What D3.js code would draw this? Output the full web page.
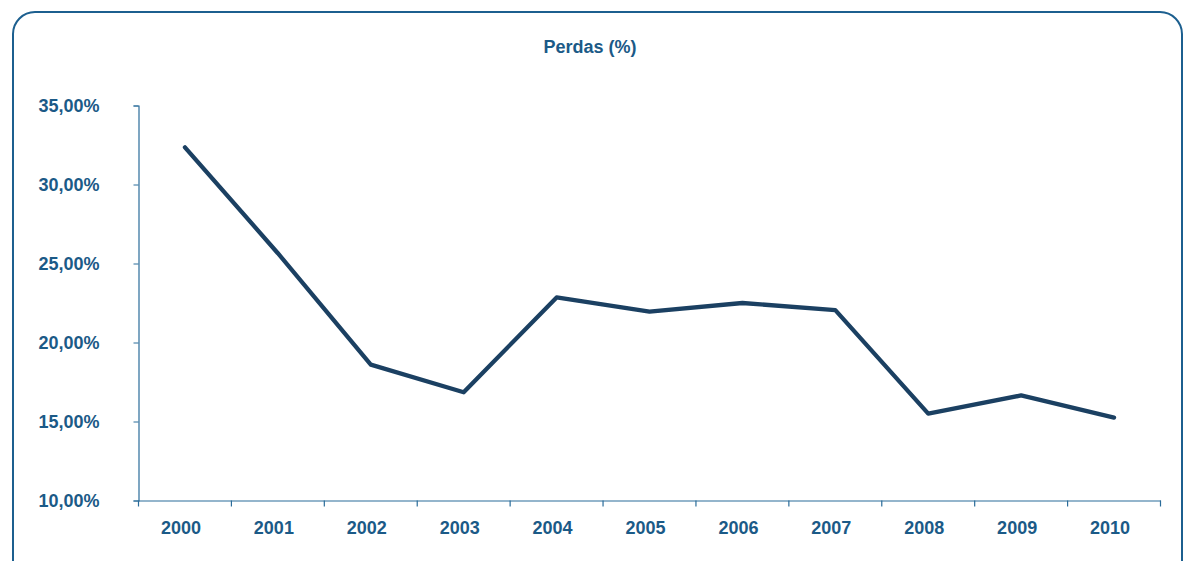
<!DOCTYPE html>
<html>
<head>
<meta charset="utf-8">
<script src="https://cdn.jsdelivr.net/npm/d3@7"></script>
<style>
  body { margin: 0; background: #fff; }
  svg { display: block; font-family: "Liberation Sans", Arial, sans-serif; }
</style>
</head>
<body>
<div id="chart"></div>
<script>
// data
var years = ["2000","2001","2002","2003","2004","2005","2006","2007","2008","2009","2010"];
var perdas = [32.35, 25.65, 18.6, 16.85, 22.85, 21.95, 22.5, 22.05, 15.5, 16.65, 15.25];
var yTicks = [10, 15, 20, 25, 30, 35];

var W = 1184, H = 561;
var margin = {top: 106, right: 24, bottom: 60, left: 138};
var width = 1160 - margin.left,
    height = 501 - margin.top;

var svg = d3.select("#chart").append("svg")
  .attr("width", W)
  .attr("height", H);

// rounded frame
svg.append("rect")
  .attr("x", 13).attr("y", 12)
  .attr("width", 1169).attr("height", 570)
  .attr("rx", 22).attr("ry", 22)
  .attr("fill", "none")
  .attr("stroke", "#1c5f8f")
  .attr("stroke-width", 2);

svg.append("text")
  .attr("x", 590).attr("y", 53)
  .attr("text-anchor", "middle")
  .attr("fill", "#1b5a87")
  .style("font-size", "18px")
  .style("font-weight", "bold")
  .text("Perdas (%)");

var g = svg.append("g")
  .attr("transform", "translate(" + (margin.left + 0.5) + "," + (margin.top - 0.5) + ")");

var x = d3.scaleBand().domain(years).range([0, width]);
var y = d3.scaleLinear().domain([10, 35]).range([height, 0]);

var fmt = function(d) { return d3.format(".2f")(d).replace(".", ",") + "%"; };

var yAxis = g.append("g")
  .call(d3.axisLeft(y).tickValues(yTicks).tickFormat(fmt).tickSize(5).tickPadding(34));
yAxis.select(".domain").attr("stroke", "#2a6c9a").attr("stroke-width", 1.2);
yAxis.selectAll(".tick line").attr("stroke", "#2a6c9a");
yAxis.selectAll(".tick text")
  .attr("fill", "#1b5a87")
  .style("font-size", "18px")
  .style("font-weight", "bold");

var xAxis = g.append("g")
  .attr("transform", "translate(0," + height + ")")
  .call(d3.axisBottom(x).tickSize(0).tickPadding(21));
xAxis.select(".domain").attr("stroke", "#2a6c9a").attr("stroke-width", 1.2);
xAxis.selectAll(".tick text")
  .attr("fill", "#1b5a87")
  .attr("dx", -4)
  .style("font-size", "18px")
  .style("font-weight", "bold");

// category separators below the x axis
var bounds = years.map(function(d) { return x(d); }).concat([width]);
g.selectAll(".sep").data(bounds).enter().append("line")
  .attr("class", "sep")
  .attr("x1", function(d) { return d; })
  .attr("x2", function(d) { return d; })
  .attr("y1", height)
  .attr("y2", height + 6)
  .attr("stroke", "#2a6c9a")
  .attr("stroke-width", 1.2);

var line = d3.line()
  .x(function(d, i) { return x(years[i]) + x.bandwidth() / 2; })
  .y(function(d) { return y(d); });

g.append("path")
  .datum(perdas)
  .attr("d", line)
  .attr("fill", "none")
  .attr("stroke", "#1b4062")
  .attr("stroke-width", 4.3)
  .attr("stroke-linejoin", "round")
  .attr("stroke-linecap", "round");
</script>
</body>
</html>
